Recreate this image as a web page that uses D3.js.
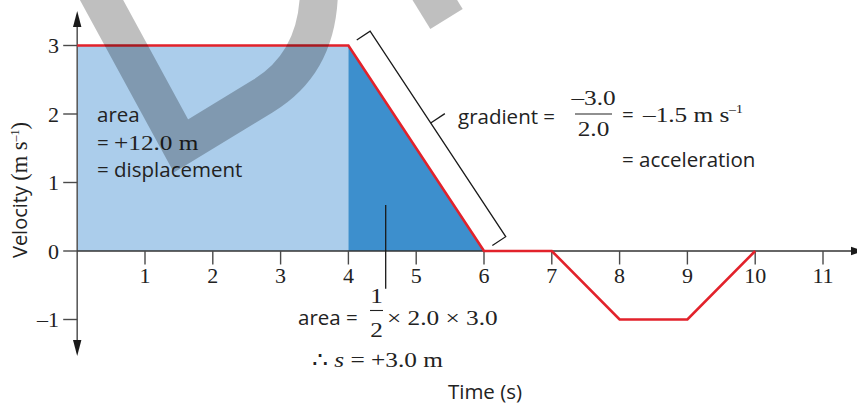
<!DOCTYPE html>
<html>
<head>
<meta charset="utf-8">
<script src="https://cdn.jsdelivr.net/npm/d3@7"></script>
<style>
  html, body { margin: 0; padding: 0; background: #fff; }
  svg { display: block; }
  .sans { font-family: "Open Sans", "Noto Sans", sans-serif; }
  .serif { font-family: "Liberation Serif", "DejaVu Serif", serif; }
</style>
</head>
<body>
<svg id="chart" width="857" height="406"></svg>
<script>
// Velocity–time graph: time (s) against velocity (m s⁻¹)
const times = [0, 4, 6, 7, 8, 9, 10];
const velocities = [3, 3, 0, 0, -1, -1, 0];
const xTickValues = [1, 2, 3, 4, 5, 6, 7, 8, 9, 10, 11];
const yTickValues = [-1, 0, 1, 2, 3];
const yTickLabels = ["–1", "0", "1", "2", "3"];

const points = times.map((t, i) => ({ t, v: velocities[i] }));

const svg = d3.select("#chart");

const x = d3.scaleLinear().domain([0, 11]).range([77.2, 823]);
const y = d3.scaleLinear().domain([-1, 3]).range([319.5, 45.5]);

const colLight = "#abcdeb";
const colDark = "#3d8fcd";
const colRed = "#e2222b";
const colAxis = "#4a4a4a";
const txt = "#222";
const SERIF_SIZE = 22;
const SERIF_WIDEN = 1.15;   // the maths face is set a little wide
const SANS_SIZE = 20.5;

// ---- shaded areas under the graph ----
const area = d3.area().x(d => x(d.t)).y0(y(0)).y1(d => y(d.v));
svg.append("path")
  .datum(points.slice(0, 2))
  .attr("d", area)
  .attr("fill", colLight);
svg.append("path")
  .datum(points.slice(1, 3))
  .attr("d", area)
  .attr("fill", colDark);

// ---- axes ----
const axes = svg.append("g");
axes.append("line")
  .attr("x1", x(0)).attr("x2", x(0))
  .attr("y1", 20).attr("y2", 348)
  .attr("stroke", "#5c5c5c").attr("stroke-width", 1.6);
axes.append("path")
  .attr("d", `M${x(0)},11 L${x(0) - 4.2},27 L${x(0) + 4.2},27 Z`)
  .attr("fill", "#1a1a1a");
axes.append("path")
  .attr("d", `M${x(0)},356 L${x(0) - 4.2},340 L${x(0) + 4.2},340 Z`)
  .attr("fill", "#1a1a1a");
axes.append("line")
  .attr("x1", x(0)).attr("x2", 852)
  .attr("y1", y(0)).attr("y2", y(0))
  .attr("stroke", "#333").attr("stroke-width", 1.6);
axes.append("path")
  .attr("d", `M864,${y(0)} L851,${y(0) - 4.2} L851,${y(0) + 4.2} Z`)
  .attr("fill", "#1a1a1a");

// x ticks and labels
const xt = axes.selectAll(".xt").data(xTickValues).join("g")
  .attr("transform", d => `translate(${x(d)},0)`);
xt.append("line")
  .attr("y1", y(0)).attr("y2", y(0) + 13.5)
  .attr("stroke", colAxis).attr("stroke-width", 1.4);
xt.append("text")
  .attr("class", "serif")
  .attr("y", 283)
  .attr("text-anchor", "middle")
  .attr("font-size", SERIF_SIZE)
  .attr("fill", txt)
  .text(d => d);

// y ticks and labels
const yt = axes.selectAll(".yt").data(yTickValues).join("g")
  .attr("transform", d => `translate(0,${y(d)})`);
yt.append("line")
  .attr("x1", x(0) - 14).attr("x2", x(0))
  .attr("stroke", colAxis).attr("stroke-width", 1.4);
yt.append("text")
  .attr("class", "serif")
  .attr("x", 59)
  .attr("y", 7.5)
  .attr("text-anchor", "end")
  .attr("font-size", SERIF_SIZE)
  .attr("fill", txt)
  .text((d, i) => yTickLabels[i]);

// ---- the velocity graph ----
svg.append("path")
  .datum(points)
  .attr("d", d3.line().x(d => x(d.t)).y(d => y(d.v)))
  .attr("fill", "none")
  .attr("stroke", colRed)
  .attr("stroke-width", 2.6)
  .attr("stroke-linejoin", "miter");

// ---- bracket beside the sloping section ----
const p1 = [x(points[1].t), y(points[1].v)];
const p2 = [x(points[2].t), y(points[2].v)];
const len = Math.hypot(p2[0] - p1[0], p2[1] - p1[1]);
const u = [(p2[0] - p1[0]) / len, (p2[1] - p1[1]) / len];
const n = [u[1], -u[0]];
const at = (p, off, along) => [p[0] + n[0] * off + u[0] * along, p[1] + n[1] * off + u[1] * along];
const bA = at(p1, 10, 0), bB = at(p1, 26, 0), bC = at(p2, 26, 0), bD = at(p2, 10, 0);
svg.append("path")
  .attr("d", `M${bA}L${bB}L${bC}L${bD}`)
  .attr("fill", "none")
  .attr("stroke", "#1a1a1a")
  .attr("stroke-width", 1.3);
const sA = at(p1, 26, 110), sB = at(p1, 43, 110);
svg.append("line")
  .attr("x1", sA[0]).attr("y1", sA[1]).attr("x2", sB[0]).attr("y2", sB[1])
  .attr("stroke", "#1a1a1a").attr("stroke-width", 1.3);

// pointer from the triangle to its area working
svg.append("line")
  .attr("x1", x(4.55)).attr("x2", x(4.55))
  .attr("y1", y(0.67)).attr("y2", y(-0.55))
  .attr("stroke", "#1a1a1a").attr("stroke-width", 1.3);

// ---- annotation helpers ----
const sans = (xx, yy, str, anchor = "start") => svg.append("text")
  .attr("class", "sans").attr("x", xx).attr("y", yy)
  .attr("font-size", SANS_SIZE).attr("fill", txt)
  .attr("text-anchor", anchor).text(str);
const serif = (xx, yy, anchor = "start", size = SERIF_SIZE) => svg.append("text")
  .attr("class", "serif")
  .attr("transform", `translate(${xx},${yy}) scale(${SERIF_WIDEN},1)`)
  .attr("font-size", size).attr("fill", txt)
  .attr("text-anchor", anchor);

// rectangle area
sans(97, 122, "area");
sans(97, 150, "=");
serif(114, 150).text("+12.0 m");
sans(97, 177, "= displacement");

// gradient
sans(458, 124, "gradient =");
serif(593.5, 105, "middle").text("–3.0");
svg.append("line").attr("x1", 575).attr("x2", 612).attr("y1", 114).attr("y2", 114)
  .attr("stroke", txt).attr("stroke-width", 1.1);
serif(593.5, 136, "middle").text("2.0");
sans(622, 122, "=");
serif(643, 122).text("–1.5 m s");
serif(729, 113, "start", 12).text("–1");
sans(622, 167, "= acceleration");

// triangle area
sans(298, 325, "area =");
serif(376.5, 303, "middle").text("1");
svg.append("line").attr("x1", 370).attr("x2", 383).attr("y1", 310.5).attr("y2", 310.5)
  .attr("stroke", txt).attr("stroke-width", 1.1);
serif(376.5, 337, "middle").text("2");
serif(387, 325).text("× 2.0 × 3.0");
const s2 = serif(312, 367);
s2.append("tspan").text("∴ ");
s2.append("tspan").attr("font-style", "italic").text("s");
s2.append("tspan").text(" = +3.0 m");

// axis titles
sans(485, 399, "Time (s)", "middle");
const yl = svg.append("text")
  .attr("transform", "translate(27,190) rotate(-90)")
  .attr("text-anchor", "middle")
  .attr("fill", txt);
yl.append("tspan").attr("class", "sans").attr("font-size", 20).text("Velocity ");
yl.append("tspan").attr("class", "serif").attr("font-size", 22.5).text("(m s");
yl.append("tspan").attr("class", "serif").attr("font-size", 12).attr("dy", -8).text("–1");
yl.append("tspan").attr("class", "serif").attr("font-size", 22.5).attr("dy", 8).text(")");

// ---- translucent grey overlay stroke ----
const overlay = svg.append("g")
  .attr("fill", "none")
  .attr("stroke", "#000")
  .attr("stroke-opacity", 0.25)
  .attr("stroke-width", 38);
overlay.append("path")
  .attr("d", "M95,-12 L181,146 L263,96 Q319,62 319,-12")
  .attr("stroke-linejoin", "miter");
overlay.append("path")
  .attr("d", "M412,-37 L446.5,19");
</script>
</body>
</html>
